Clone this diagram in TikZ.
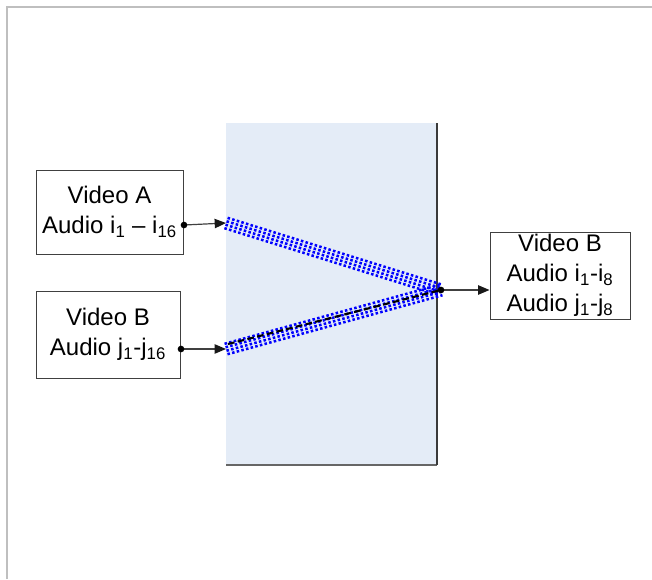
\documentclass[tikz,border=0pt]{standalone}
\usepackage{fontspec}
\setmainfont{Liberation Sans}
\usetikzlibrary{arrows.meta,calc}
\definecolor{muxfill}{HTML}{E4ECF7}
\definecolor{framegray}{HTML}{BFBFBF}
\definecolor{edgegray}{HTML}{404040}
\definecolor{bandblue}{HTML}{0000FF}
\begin{document}
\begin{tikzpicture}[x=0.75pt,y=-0.75pt,
  box/.style={draw=edgegray, line width=0.75pt, fill=white, align=center,
    font=\fontsize{18}{22.5}\selectfont, inner sep=0pt},
  conn/.style={draw=edgegray, line width=0.9pt, -{Triangle[length=8.5pt,width=7pt,color=black!90]}},
  dotmark/.style={circle, fill=black, inner sep=0pt, minimum size=5pt},
  bandline/.style={draw=bandblue, line width=1.9pt, dash pattern=on 1.9pt off 1.7pt},
]
\useasboundingbox (0,0) rectangle (652,579);
% frame
\draw[framegray, line width=2.2pt] (7,579) -- (7,7) -- (652,7);
% mux area
\fill[muxfill] (226,123) rectangle (437,465);
\node[inner sep=0pt, minimum width=158.25pt, minimum height=256.5pt] (mux) at (331.5,294) {};
\draw[edgegray!80, line width=0.9pt] (226,465) -- (437,465);
\draw[edgegray!90!black, line width=0.9pt] (437,465) -- (437,123);
% boxes
\node[box, minimum width=110.25pt, minimum height=63pt] (A) at (109.5,212)
  {Video A\\Audio i\textsubscript{1} – i\textsubscript{16}};
\node[box, minimum width=108pt, minimum height=65.25pt] (B) at (108,334.5)
  {Video B\\Audio j\textsubscript{1}-j\textsubscript{16}};
\node[box, minimum width=105pt, minimum height=65.25pt] (C) at (560,275.5)
  {Video B\\Audio i\textsubscript{1}-i\textsubscript{8}\\Audio j\textsubscript{1}-j\textsubscript{8}};
% connection points
\coordinate (dA) at (184,225);
\coordinate (dB) at (181,349);
\coordinate (inA) at (226,223);
\coordinate (inB) at (226,349);
\coordinate (out) at (441,290);
\coordinate (cIn) at (C.west |- out);
% bands
\foreach \o in {-5.4,-1.8,1.8,5.4} {
  \draw[bandline] ($(inA)+(-0.295*\o,0.955*\o)$) -- ($(out)+(-0.295*\o,0.955*\o)$);
  \draw[bandline] ($(inB)+(0.270*\o,0.964*\o)$) -- ($(out)+(0.270*\o,0.964*\o)$);
}
\draw[black, line width=1.6pt, dash pattern=on 5pt off 2.5pt] (228,344) -- (out);
% connectors
\draw[conn] (dA) -- (inA);
\draw[conn] (dB) -- (inB);
\draw[conn] (out) -- (cIn);
\node[dotmark] at (dA) {};
\node[dotmark] at (dB) {};
\node[dotmark] at (out) {};
\end{tikzpicture}
\end{document}
